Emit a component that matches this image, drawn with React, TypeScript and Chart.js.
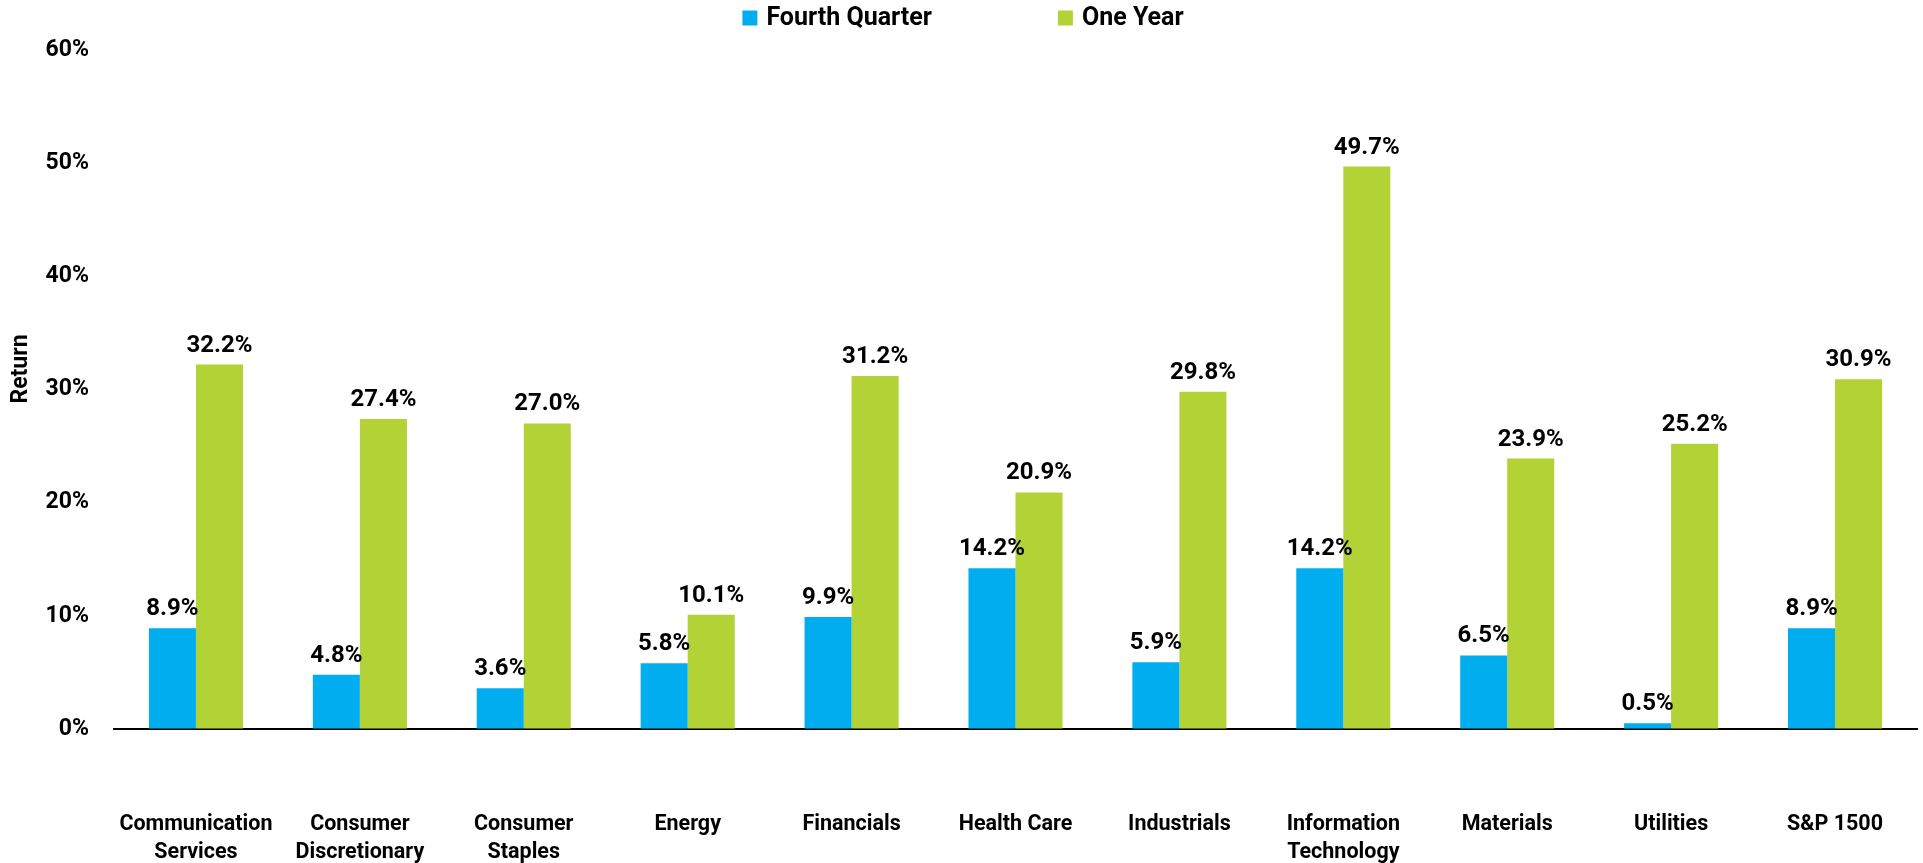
import React, { useEffect, useRef } from "react";
import { Chart, registerables } from "chart.js";

Chart.register(...registerables);

const categories: string[][] = [
  ["Communication", "Services"],
  ["Consumer", "Discretionary"],
  ["Consumer", "Staples"],
  ["Energy"],
  ["Financials"],
  ["Health Care"],
  ["Industrials"],
  ["Information", "Technology"],
  ["Materials"],
  ["Utilities"],
  ["S&P 1500"],
];
const fourthQuarter = [8.9, 4.8, 3.6, 5.8, 9.9, 14.2, 5.9, 14.2, 6.5, 0.5, 8.9];
const oneYear = [32.2, 27.4, 27.0, 10.1, 31.2, 20.9, 29.8, 49.7, 23.9, 25.2, 30.9];
const seriesNames = ["Fourth Quarter", "One Year"];
const seriesColors = ["#00AEEF", "#B2D235"];
const yAxisTitle = "Return";
const yMin = 0;
const yMax = 60;
const yStep = 10;

const FONT = "Roboto, 'DejaVu Sans', sans-serif";

const valueLabels = {
  id: "valueLabels",
  afterDatasetsDraw(chart: any) {
    const ctx = chart.ctx;
    ctx.save();
    ctx.font = `bold 24px ${FONT}`;
    ctx.fillStyle = "#000";
    ctx.textAlign = "center";
    ctx.textBaseline = "alphabetic";
    chart.data.datasets.forEach((ds: any, i: number) => {
      const meta = chart.getDatasetMeta(i);
      meta.data.forEach((bar: any, j: number) => {
        const v = ds.data[j];
        ctx.fillText(v.toFixed(1) + "%", bar.x, bar.y - 13);
      });
    });
    ctx.restore();
  },
};

const customLegend = {
  id: "customLegend",
  afterDraw(chart: any) {
    const ctx = chart.ctx;
    ctx.save();
    ctx.font = `bold 25px ${FONT}`;
    ctx.textBaseline = "middle";
    ctx.textAlign = "left";
    const box = 15;
    const gap = 9;
    const spacing = 126;
    const cy = 18;
    const widths = chart.data.datasets.map((ds: any) => ctx.measureText(ds.label).width);
    let total = 0;
    widths.forEach((w: number, i: number) => {
      total += box + gap + w + (i > 0 ? spacing : 0);
    });
    let x = 963 - total / 2;
    chart.data.datasets.forEach((ds: any, i: number) => {
      ctx.fillStyle = ds.backgroundColor;
      ctx.fillRect(x, cy - box / 2, box, box);
      ctx.fillStyle = "#000";
      ctx.fillText(ds.label, x + box + gap, cy + 1);
      x += box + gap + widths[i] + spacing;
    });
    // y axis title
    ctx.font = `bold 23px ${FONT}`;
    ctx.textAlign = "center";
    ctx.textBaseline = "middle";
    ctx.translate(21, 369);
    ctx.rotate(-Math.PI / 2);
    ctx.fillText(yAxisTitle, 0, 0);
    ctx.restore();
  },
};

export default function App() {
  const ref = useRef<HTMLCanvasElement>(null);
  useEffect(() => {
    if (!ref.current) return;
    const chart = new Chart(ref.current, {
      type: "bar",
      data: {
        labels: categories,
        datasets: [
          {
            label: seriesNames[0],
            data: fourthQuarter,
            backgroundColor: seriesColors[0],
            categoryPercentage: 0.574,
            barPercentage: 1,
          },
          {
            label: seriesNames[1],
            data: oneYear,
            backgroundColor: seriesColors[1],
            categoryPercentage: 0.574,
            barPercentage: 1,
          },
        ],
      },
      options: {
        animation: false,
        responsive: false,
        maintainAspectRatio: false,
        layout: { padding: { left: 0, right: 6, top: 50, bottom: -6 } },
        plugins: {
          legend: { display: false },
          tooltip: { enabled: false },
        },
        scales: {
          x: {
            grid: {
              display: true,
              drawOnChartArea: false,
              drawTicks: true,
              tickLength: 80,
              tickColor: "rgba(0,0,0,0)",
            },
            border: { display: true, color: "#000", width: 2 },
            ticks: {
              color: "#000",
              padding: 2,
              maxRotation: 0,
              autoSkip: false,
              font: { family: FONT, size: 21.5, weight: "bold", lineHeight: 28 / 21.5 },
            },
          },
          y: {
            min: yMin,
            max: yMax,
            grid: {
              display: true,
              drawOnChartArea: false,
              drawTicks: true,
              tickLength: 25,
              tickColor: "rgba(0,0,0,0)",
            },
            border: { display: false },
            afterFit: (scale: any) => {
              scale.width = 114;
            },
            ticks: {
              stepSize: yStep,
              color: "#000",
              padding: 0,
              font: { family: FONT, size: 23, weight: "bold" },
              callback: (v: any) => v + "%",
            },
          },
        },
      },
      plugins: [valueLabels, customLegend],
    });
    return () => chart.destroy();
  }, []);
  return (
    <div style={{ position: "absolute", left: 0, top: 0, width: 1923, height: 863, background: "#fff" }}>
      <canvas ref={ref} width={1923} height={863} style={{ width: 1923, height: 863 }} />
    </div>
  );
}
